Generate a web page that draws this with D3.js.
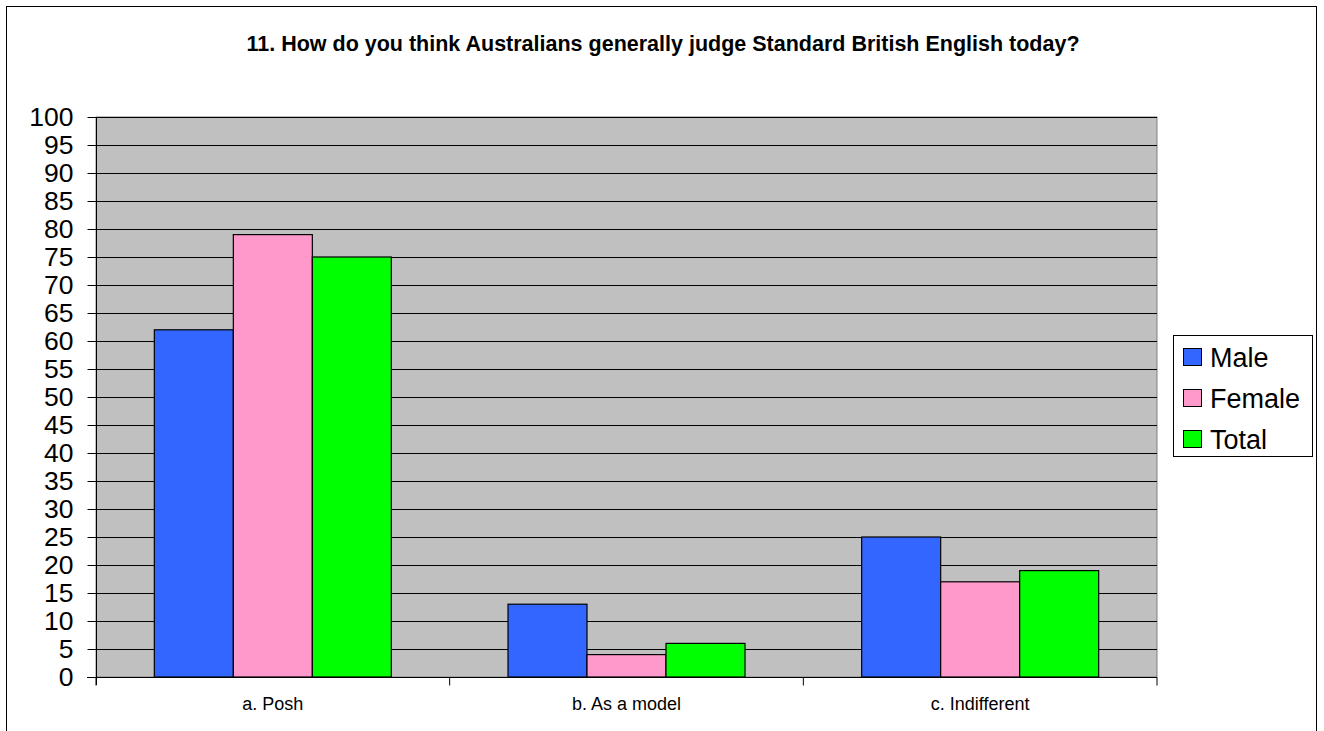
<!DOCTYPE html>
<html><head><meta charset="utf-8">
<script src="https://cdn.jsdelivr.net/npm/d3@7"></script>
<style>body{margin:0;background:#fff}svg{display:block}text{font-family:Arial,"Liberation Sans",sans-serif}</style>
</head><body>
<script>
const title = "11. How do you think Australians generally judge Standard British English today?";
const categories = ["a. Posh", "b. As a model", "c. Indifferent"];
const seriesNames = ["Male", "Female", "Total"];
const male = [62, 13, 25];
const female = [79, 4, 17];
const total = [75, 6, 19];
const colors = ["#3366FF", "#FF99CC", "#00FF00"];
const yTicks = d3.range(0, 101, 5);

const W = 1324, H = 731;
const svg = d3.select("body").append("svg").attr("width", W).attr("height", H);
svg.append("rect").attr("x", 6.5).attr("y", 6.5).attr("width", 1310).attr("height", 740)
  .attr("fill", "#fff").attr("stroke", "#000").attr("stroke-width", 1);

svg.append("text").attr("x", 663).attr("y", 51).attr("text-anchor", "middle")
  .attr("font-size", 21.5).attr("font-weight", "bold").text(title);

const L = 96, R = 1157, T = 117, B = 677;
const y = d3.scaleLinear().domain([0, 100]).range([B, T]);
const x0 = d3.scaleBand().domain(categories).range([L, R]).paddingInner(0).paddingOuter(0);
const barW = 79;
const data = seriesNames.map((s, i) => ({name: s, values: [male, female, total][i], color: colors[i]}));

svg.append("rect").attr("x", L).attr("y", T).attr("width", R - L).attr("height", B - T)
  .attr("fill", "#C0C0C0").attr("stroke", "#808080");

const g = svg.append("g");
g.selectAll("line.grid").data(yTicks.filter(d => d > 0)).join("line")
  .attr("x1", L).attr("x2", R).attr("y1", d => Math.round(y(d)) + 0.5).attr("y2", d => Math.round(y(d)) + 0.5)
  .attr("stroke", "#000").attr("stroke-width", 1);

data.forEach((s, si) => {
  g.selectAll("rect.s" + si).data(categories).join("rect")
    .attr("x", (c) => x0(c) + x0.bandwidth() / 2 - 1.5 * barW + si * barW)
    .attr("y", (c, i) => y(s.values[i]))
    .attr("width", barW)
    .attr("height", (c, i) => B - y(s.values[i]))
    .attr("fill", s.color).attr("stroke", "#000").attr("stroke-width", 1.2);
});

// y axis
const yAxis = d3.axisLeft(y).tickValues(yTicks).tickSize(9).tickPadding(14);
const ya = svg.append("g").attr("transform", `translate(${L + 0.5},0)`).call(yAxis);
ya.select(".domain").attr("d", `M0,${T}V${B + 8}`).attr("stroke", "#000");
ya.selectAll("text").attr("font-size", 26.5).attr("fill", "#000").attr("font-family", "Arial, 'Liberation Sans', sans-serif");
ya.selectAll(".tick line").attr("stroke", "#000");

// x axis
const xa = svg.append("g").attr("transform", `translate(0,${B + 0.5})`);
xa.append("line").attr("x1", L - 9).attr("x2", R).attr("stroke", "#000");
const xb = [L, ...categories.map(c => x0(c) + x0.bandwidth())];
xa.selectAll("line.t").data(xb).join("line").attr("x1", d => d).attr("x2", d => d).attr("y1", 0).attr("y2", 8).attr("stroke", "#000");
xa.selectAll("text").data(categories).join("text")
  .attr("x", c => x0(c) + x0.bandwidth() / 2).attr("y", 32).attr("text-anchor", "middle")
  .attr("font-size", 18).text(d => d);

// legend
const lg = svg.append("g");
lg.append("rect").attr("x", 1173.5).attr("y", 335.5).attr("width", 139).attr("height", 121)
  .attr("fill", "#fff").attr("stroke", "#000");
data.forEach((s, i) => {
  const cy = 357 + i * 41;
  lg.append("rect").attr("x", 1183.5).attr("y", cy - 8.5).attr("width", 18).attr("height", 17)
    .attr("fill", s.color).attr("stroke", "#000");
  lg.append("text").attr("x", 1210).attr("y", cy + 10).attr("font-size", 27).text(s.name);
});
</script>
</body></html>
